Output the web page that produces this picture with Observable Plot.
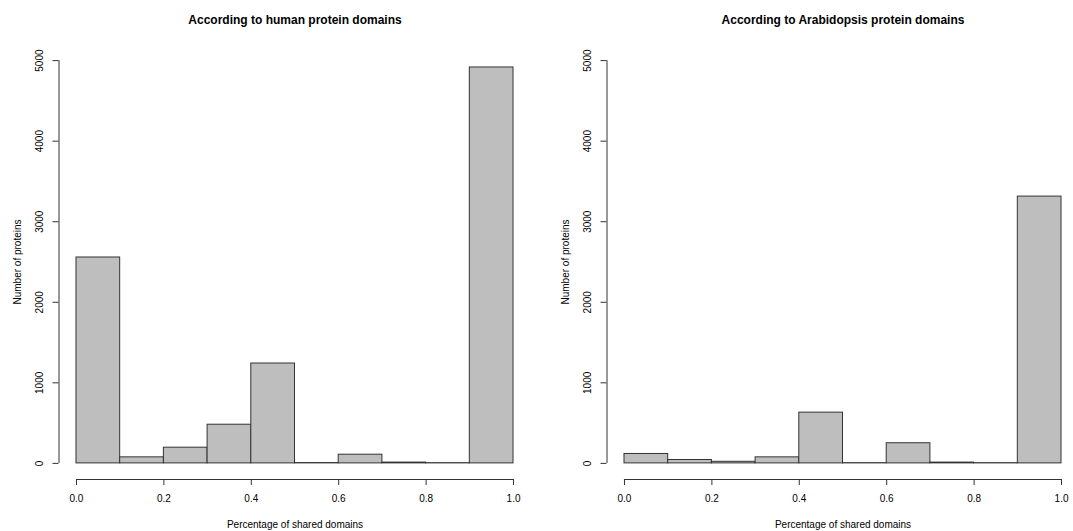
<!DOCTYPE html>
<html>
<head>
<meta charset="utf-8">
<script src="https://cdn.jsdelivr.net/npm/d3@7"></script>
<script src="https://cdn.jsdelivr.net/npm/@observablehq/plot@0.6"></script>
<style>
  html, body { margin: 0; padding: 0; background: #fff; overflow: hidden; }
  #wrap { display: flex; width: 1096px; height: 531px; }
  #wrap svg { display: block; }
</style>
</head>
<body>
<div id="wrap"></div>
<script>
const breaks = [0, 0.1, 0.2, 0.3, 0.4, 0.5, 0.6, 0.7, 0.8, 0.9, 1.0];
const humanCounts = [2556, 75, 195, 480, 1240, 4, 108, 10, 3, 4915];
const arabidopsisCounts = [117, 42, 20, 75, 630, 3, 250, 10, 3, 3312];
const xTicks = [0, 0.2, 0.4, 0.6, 0.8, 1.0];
const yTicks = [0, 1000, 2000, 3000, 4000, 5000];
const titles = ["According to human protein domains", "According to Arabidopsis protein domains"];
const xLabel = "Percentage of shared domains";
const yLabel = "Number of proteins";

// R-style axis extension (4% on each side)
const xDomain = [-0.04, 1.04];
const yDomain = [-200, 5200];

function panel(title, counts) {
  const bins = counts.map((c, i) => ({x1: breaks[i], x2: breaks[i + 1], y: c}));
  const font = "Liberation Sans, Arial, Helvetica, sans-serif";
  return Plot.plot({
    width: 548,
    height: 531,
    marginLeft: 58.5,
    marginRight: 17.5,
    marginTop: 44,
    marginBottom: 52,
    style: {fontFamily: font, fontSize: "10px", color: "#000", background: "#fff"},
    x: {domain: xDomain, axis: null},
    y: {domain: yDomain, axis: null},
    marks: [
      Plot.rectY(bins, {x1: "x1", x2: "x2", y: "y", fill: "#bebebe", stroke: "#333", strokeWidth: 1}),
      // x axis
      Plot.ruleY([yDomain[0]], {x1: xTicks[0], x2: xTicks[xTicks.length - 1], stroke: "#333"}),
      Plot.axisX({ticks: xTicks, tickSize: 6, tickPadding: 9, tickFormat: d3.format(".1f"), label: null, stroke: "#333", fontSize: 10}),
      // y axis
      Plot.ruleX([xDomain[0]], {y1: yTicks[0], y2: yTicks[yTicks.length - 1], stroke: "#333"}),
      Plot.axisY({ticks: yTicks, tickSize: 6, tickFormat: () => "", label: null, stroke: "#333"}),
      Plot.text(yTicks, {y: d => d, frameAnchor: "left", dx: -19, rotate: -90, text: d => String(d), textAnchor: "middle", lineAnchor: "middle", fontSize: 10, fill: "#000"}),
      // labels
      Plot.text([xLabel], {frameAnchor: "bottom", dy: 45, lineAnchor: "middle", fontSize: 10, fill: "#000"}),
      Plot.text([yLabel], {frameAnchor: "left", dx: -41.5, rotate: -90, lineAnchor: "middle", textAnchor: "middle", fontSize: 10, fill: "#000"}),
      Plot.text([title], {frameAnchor: "top", dy: -24, lineAnchor: "middle", fontSize: 12, fontWeight: "bold", fill: "#000"})
    ]
  });
}

const wrap = document.getElementById("wrap");
wrap.appendChild(panel(titles[0], humanCounts));
wrap.appendChild(panel(titles[1], arabidopsisCounts));
</script>
</body>
</html>
